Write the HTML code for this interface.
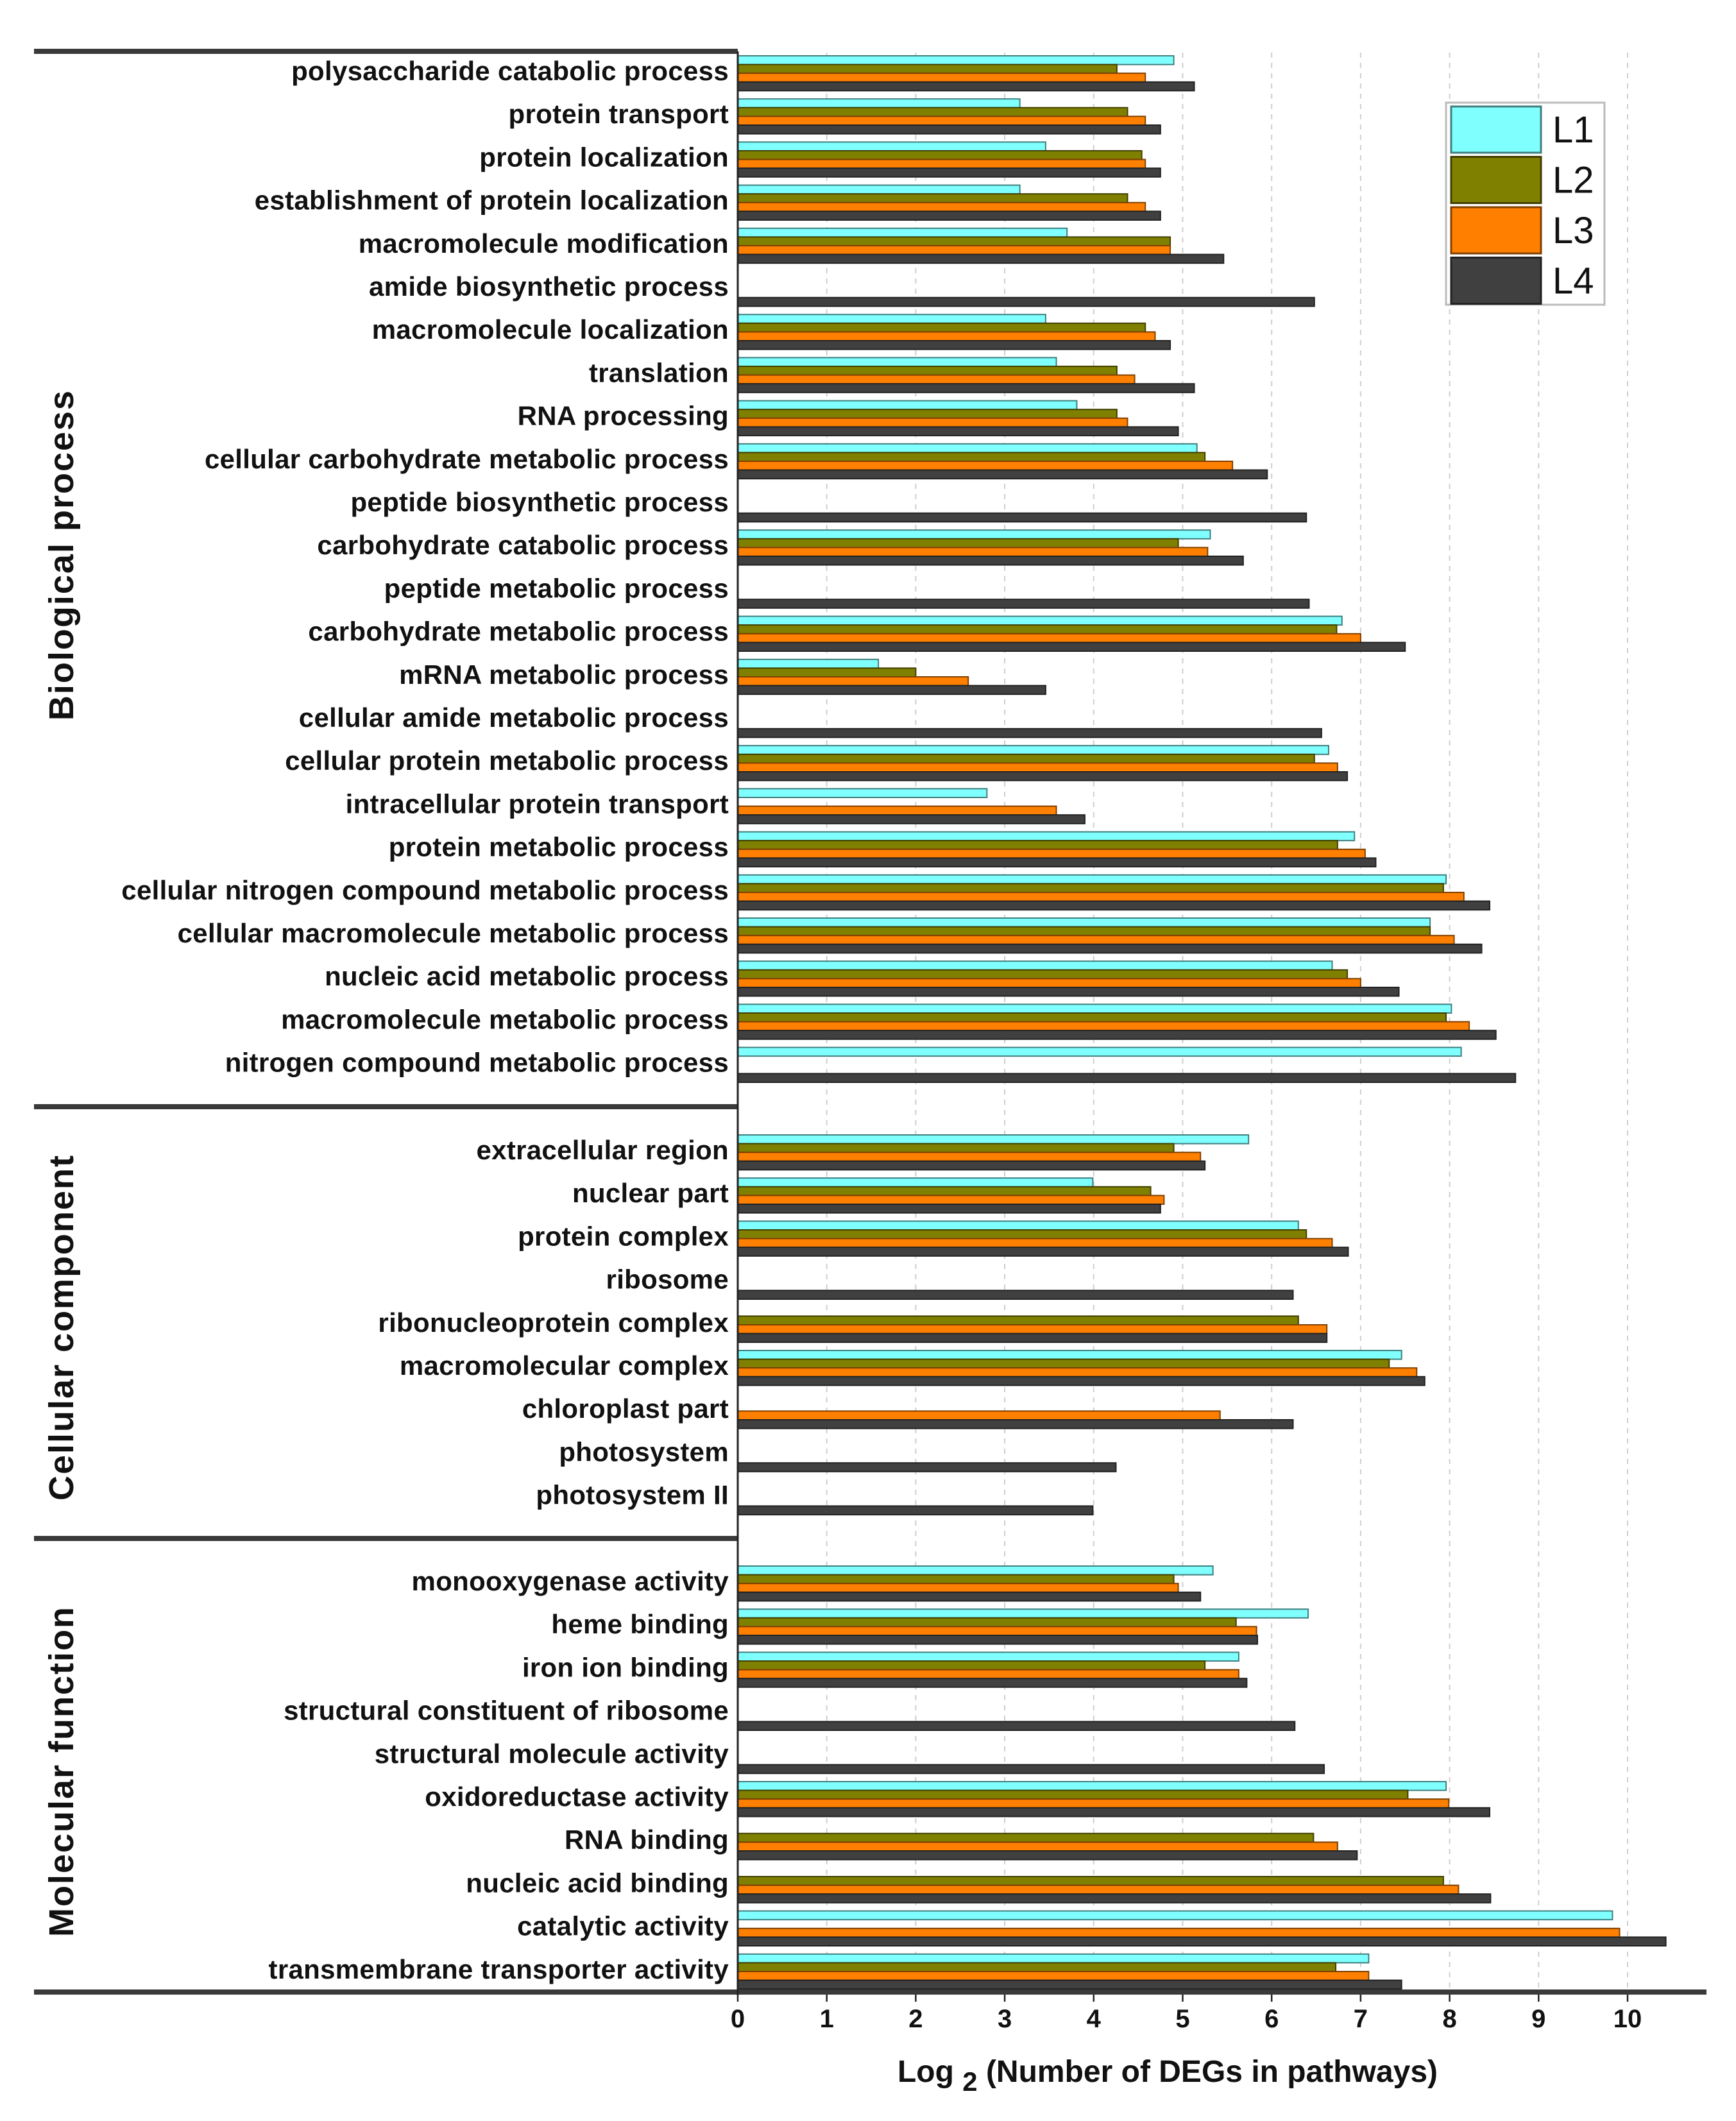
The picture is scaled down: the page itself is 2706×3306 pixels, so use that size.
<!DOCTYPE html>
<html><head><meta charset="utf-8"><style>
html,body{margin:0;padding:0;background:#fff;}
svg{display:block;}
text{font-family:"Liberation Sans",Arial,sans-serif;font-weight:bold;fill:#111;}
</style></head><body>
<svg id="chart" width="2706" height="3306" viewBox="0 0 2706 3306" xmlns="http://www.w3.org/2000/svg">
<g id="grid"></g>
<g id="bars"></g>
<g id="labels"></g>
<g id="axes"></g>
<g id="legend"></g>
</svg>
<script>
const bpCategories = ["polysaccharide catabolic process","protein transport","protein localization","establishment of protein localization","macromolecule modification","amide biosynthetic process","macromolecule localization","translation","RNA processing","cellular carbohydrate metabolic process","peptide biosynthetic process","carbohydrate catabolic process","peptide metabolic process","carbohydrate metabolic process","mRNA metabolic process","cellular amide metabolic process","cellular protein metabolic process","intracellular protein transport","protein metabolic process","cellular nitrogen compound metabolic process","cellular macromolecule metabolic process","nucleic acid metabolic process","macromolecule metabolic process","nitrogen compound metabolic process"];
const bpL1 = [4.9,3.17,3.46,3.17,3.7,0,3.46,3.58,3.81,5.16,0,5.31,0,6.79,1.58,0,6.64,2.8,6.93,7.96,7.78,6.68,8.02,8.13];
const bpL2 = [4.26,4.38,4.54,4.38,4.86,0,4.58,4.26,4.26,5.25,0,4.95,0,6.73,2.0,0,6.48,0,6.74,7.93,7.78,6.85,7.96,0];
const bpL3 = [4.58,4.58,4.58,4.58,4.86,0,4.69,4.46,4.38,5.56,0,5.28,0,7.0,2.59,0,6.74,3.58,7.05,8.16,8.05,7.0,8.22,0];
const bpL4 = [5.13,4.75,4.75,4.75,5.46,6.48,4.86,5.13,4.95,5.95,6.39,5.68,6.42,7.5,3.46,6.56,6.85,3.9,7.17,8.45,8.36,7.43,8.52,8.74];
const ccCategories = ["extracellular region","nuclear part","protein complex","ribosome","ribonucleoprotein complex","macromolecular complex","chloroplast part","photosystem","photosystem II"];
const ccL1 = [5.74,3.99,6.3,0,0,7.46,0,0,0];
const ccL2 = [4.9,4.64,6.39,0,6.3,7.32,0,0,0];
const ccL3 = [5.2,4.79,6.68,0,6.62,7.63,5.42,0,0];
const ccL4 = [5.25,4.75,6.86,6.24,6.62,7.72,6.24,4.25,3.99];
const mfCategories = ["monooxygenase activity","heme binding","iron ion binding","structural constituent of ribosome","structural molecule activity","oxidoreductase activity","RNA binding","nucleic acid binding","catalytic activity","transmembrane transporter activity"];
const mfL1 = [5.34,6.41,5.63,0,0,7.96,0,0,9.83,7.09];
const mfL2 = [4.9,5.6,5.25,0,0,7.53,6.47,7.93,0,6.72];
const mfL3 = [4.95,5.83,5.63,0,0,7.99,6.74,8.1,9.91,7.09];
const mfL4 = [5.2,5.84,5.72,6.26,6.59,8.45,6.96,8.46,10.43,7.46];
const xTicks = [0,1,2,3,4,5,6,7,8,9,10];
const seriesNames = ["L1","L2","L3","L4"];
const seriesColors = ["#80ffff","#808000","#ff8000","#404040"];
const seriesEdges = ["#3f7f7f","#3f3f00","#7f4000","#222222"];

const NS = "http://www.w3.org/2000/svg";
const X0 = 1150, UNIT = 138.7, PITCH = 67.2, BARH = 13.6;
const xScale = v => X0 + v * UNIT;
function mk(tag, attrs, parent){const e=document.createElementNS(NS,tag);for(const k in attrs)e.setAttribute(k,attrs[k]);parent.appendChild(e);return e;}
const gGrid=document.getElementById('grid'), gBars=document.getElementById('bars'), gLab=document.getElementById('labels'), gAx=document.getElementById('axes'), gLeg=document.getElementById('legend');

xTicks.forEach(t=>{
  if(t>0){const l=mk('line',{x1:xScale(t),x2:xScale(t),y1:82,y2:3100,stroke:'#cfcfcf','stroke-width':2,'stroke-dasharray':'8,8'},gGrid);
  
  }
  const tk=mk('line',{x1:xScale(t),x2:xScale(t),y1:3105,y2:3120,stroke:'#222','stroke-width':2.5},gAx);
  
  
  const tl=mk('text',{x:xScale(t),y:3160,'font-size':40,'text-anchor':'middle'},gAx);
  tl.textContent=t;
  
  
});

function drawSection(cats, series, top, key){
  cats.forEach((c,i)=>{
    const gt = top + i*PITCH;
    const lab=mk('text',{x:1136,y:gt+38,'font-size':42,'text-anchor':'end','letter-spacing':0.3},gLab);
    lab.textContent=c;
    
    
    series.forEach((arr,s)=>{
      const v=arr[i]; if(!v) return;
      const y=gt+s*BARH;
      const r=mk('rect',{x:X0,y:y,width:xScale(v)-X0,height:BARH,fill:seriesColors[s],stroke:seriesEdges[s],'stroke-width':2},gBars);
      
      
    });
  });
}
drawSection(bpCategories,[bpL1,bpL2,bpL3,bpL4],87,'bp');
drawSection(ccCategories,[ccL1,ccL2,ccL3,ccL4],1769,'cc');
drawSection(mfCategories,[mfL1,mfL2,mfL3,mfL4],2441,'mf');

[[80,1150],[1725,1150],[2398,1150],[3105,2660]].forEach((p,i)=>{
  const l=mk('line',{x1:53,x2:p[1],y1:p[0],y2:p[0],stroke:'#3a3a3a','stroke-width':8},gAx);
  
  
});
const ya=mk('line',{x1:X0,x2:X0,y1:80,y2:3110,stroke:'#222','stroke-width':3},gAx);



[["Biological process",865,'biological-process-title'],["Cellular component",2069,'cellular-component-title'],["Molecular function",2761,'molecular-function-title']].forEach(g=>{
  const t=mk('text',{x:0,y:0,'font-size':54,'text-anchor':'middle','letter-spacing':2,transform:`translate(114,${g[1]}) rotate(-90)`},gAx);
  t.textContent=g[0];
  
  
});

const xt=mk('text',{x:1820,y:3245,'font-size':48,'text-anchor':'middle'},gAx);


const t1=mk('tspan',{},xt); t1.textContent='Log ';
const t2=mk('tspan',{dy:14,'font-size':42},xt); t2.textContent='2';
const t3=mk('tspan',{dy:-14},xt); t3.textContent=' (Number of DEGs in pathways)';

const lb=mk('rect',{x:2254,y:160,width:247,height:315,fill:'#fff',stroke:'#bbb','stroke-width':3},gLeg);


seriesNames.forEach((n,s)=>{
  const y=164+s*78.5;
  const r=mk('rect',{x:2262,y:y+2,width:140,height:72,fill:seriesColors[s],stroke:seriesEdges[s],'stroke-width':3},gLeg);
  
  
  const t=mk('text',{x:2420,y:y+58,'font-size':58},gLeg);
  t.style.fontWeight='normal';
  t.textContent=n;
  
  
});
</script>
</body></html>
